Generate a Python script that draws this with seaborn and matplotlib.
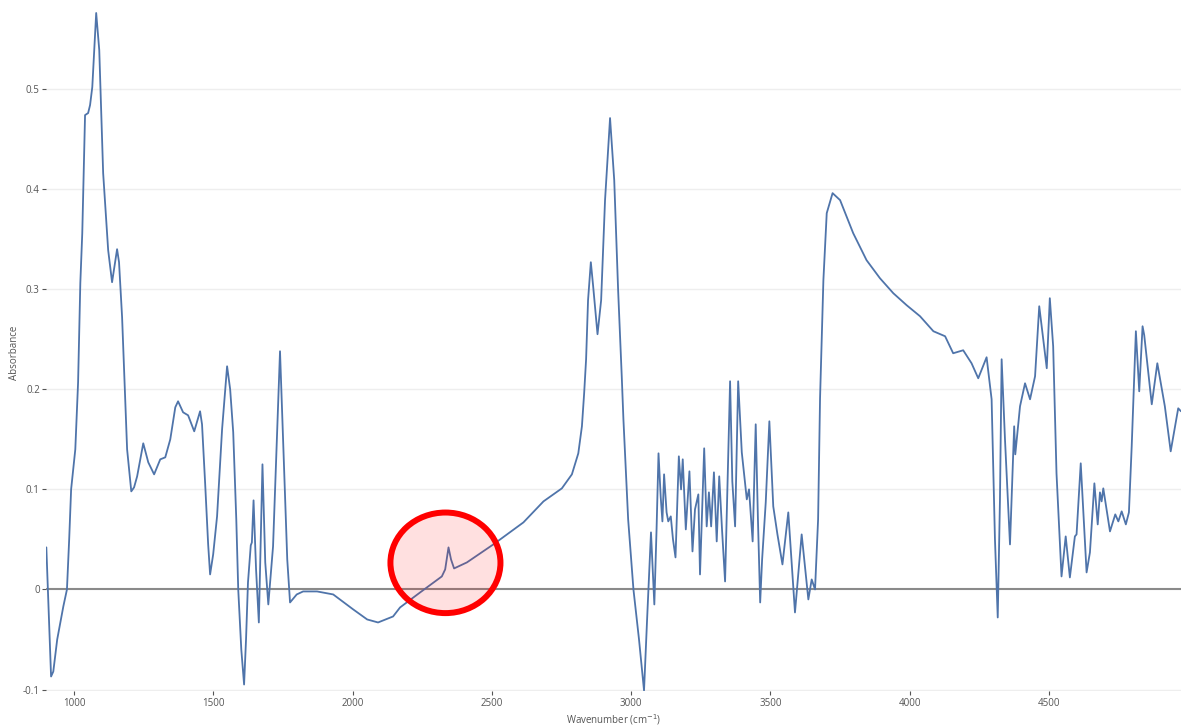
import numpy as np
import pandas as pd
import matplotlib
matplotlib.use("Agg")
import matplotlib.pyplot as plt
from matplotlib.patches import Ellipse
import seaborn as sns

# 스펙트럼 값
wavenumber = [900, 907, 917, 925, 939, 961, 974, 982, 989, 1004, 1014, 1022, 1029, 1039, 1050, 1057, 1065, 1079, 1090, 1104,
              1115, 1122, 1136, 1154, 1161, 1172, 1183, 1190, 1205, 1215, 1226, 1248, 1266, 1287, 1309, 1327, 1345, 1363, 1373, 1391,
              1409, 1431, 1452, 1459, 1470, 1481, 1488, 1499, 1513, 1531, 1549, 1560, 1571, 1582, 1589, 1600, 1610, 1617, 1624, 1634,
              1638, 1644, 1653, 1663, 1676, 1686, 1697, 1714, 1729, 1739, 1750, 1765, 1775, 1799, 1822, 1872, 1930, 2002, 2052, 2091,
              2145, 2170, 2242, 2320, 2332, 2344, 2353, 2364, 2410, 2505, 2613, 2685, 2751, 2787, 2810, 2823, 2831, 2838, 2845, 2855,
              2863, 2879, 2892, 2906, 2924, 2939, 2953, 2966, 2972, 2989, 3008, 3028, 3046, 3057, 3071, 3083, 3091, 3098, 3106, 3112,
              3118, 3127, 3133, 3142, 3150, 3159, 3171, 3179, 3185, 3196, 3209, 3220, 3229, 3241, 3247, 3262, 3271, 3279, 3287, 3297,
              3307, 3316, 3326, 3337, 3348, 3355, 3363, 3373, 3384, 3397, 3415, 3423, 3436, 3447, 3455, 3463, 3470, 3483, 3496, 3510,
              3525, 3543, 3564, 3588, 3612, 3636, 3648, 3660, 3671, 3678, 3690, 3702, 3723, 3750, 3797, 3845, 3893, 3941, 3989, 4037,
              4085, 4127, 4156, 4192, 4222, 4246, 4276, 4294, 4306, 4316, 4324, 4330, 4342, 4360, 4375, 4379, 4396, 4414, 4432, 4450,
              4465, 4492, 4503, 4515, 4527, 4545, 4560, 4575, 4593, 4599, 4614, 4635, 4647, 4663, 4675, 4683, 4689, 4695, 4719, 4738,
              4749, 4761, 4776, 4787, 4797, 4812, 4824, 4836, 4842, 4869, 4889, 4916, 4937, 4964, 4974]
absorbance = [0.042, -0.010, -0.087, -0.082, -0.050, -0.017, 0.000, 0.050, 0.100, 0.140, 0.207, 0.306, 0.356, 0.474, 0.476, 0.484, 0.502, 0.576, 0.539, 0.416,
              0.369, 0.339, 0.307, 0.340, 0.327, 0.272, 0.190, 0.140, 0.098, 0.102, 0.113, 0.146, 0.127, 0.115, 0.130, 0.132, 0.150, 0.182, 0.188, 0.177,
              0.174, 0.158, 0.178, 0.165, 0.107, 0.045, 0.015, 0.035, 0.073, 0.160, 0.223, 0.200, 0.157, 0.070, 0.000, -0.060, -0.095, -0.050, 0.007, 0.044,
              0.047, 0.089, 0.020, -0.033, 0.125, 0.027, -0.015, 0.043, 0.160, 0.238, 0.150, 0.030, -0.013, -0.005, -0.002, -0.002, -0.005, -0.020, -0.030, -0.033,
              -0.027, -0.018, -0.003, 0.013, 0.020, 0.042, 0.030, 0.021, 0.027, 0.045, 0.067, 0.088, 0.101, 0.115, 0.136, 0.163, 0.196, 0.230, 0.289, 0.327,
              0.304, 0.255, 0.289, 0.389, 0.471, 0.409, 0.299, 0.213, 0.170, 0.070, 0.000, -0.050, -0.101, -0.030, 0.057, -0.015, 0.060, 0.136, 0.092, 0.068,
              0.115, 0.077, 0.068, 0.073, 0.050, 0.032, 0.133, 0.100, 0.130, 0.060, 0.118, 0.038, 0.080, 0.095, 0.015, 0.141, 0.063, 0.097, 0.063, 0.117,
              0.048, 0.113, 0.060, 0.008, 0.130, 0.208, 0.108, 0.063, 0.208, 0.137, 0.090, 0.100, 0.048, 0.165, 0.070, -0.013, 0.030, 0.087, 0.168, 0.083,
              0.055, 0.025, 0.077, -0.023, 0.055, -0.010, 0.010, 0.000, 0.070, 0.191, 0.309, 0.376, 0.396, 0.389, 0.356, 0.329, 0.311, 0.296, 0.284, 0.273,
              0.258, 0.253, 0.236, 0.239, 0.226, 0.211, 0.232, 0.190, 0.050, -0.028, 0.090, 0.230, 0.150, 0.045, 0.163, 0.135, 0.183, 0.206, 0.190, 0.213,
              0.283, 0.221, 0.291, 0.243, 0.116, 0.013, 0.053, 0.012, 0.053, 0.055, 0.126, 0.017, 0.037, 0.106, 0.065, 0.097, 0.088, 0.101, 0.058, 0.075,
              0.068, 0.078, 0.065, 0.077, 0.143, 0.258, 0.198, 0.263, 0.254, 0.185, 0.226, 0.183, 0.138, 0.181, 0.178]

x_ticks = [1000, 1500, 2000, 2500, 3000, 3500, 4000, 4500]
y_ticks = [-0.1, 0, 0.1, 0.2, 0.3, 0.4, 0.5]
y_tick_labels = ['-0.1', '0', '0.1', '0.2', '0.3', '0.4', '0.5']

df = pd.DataFrame({'wavenumber': wavenumber, 'absorbance': absorbance})

sns.set_theme(style='white')
plt.rcParams['font.family'] = ['Open Sans', 'DejaVu Sans']

fig = plt.figure(figsize=(11.81, 7.27), dpi=100)
ax = fig.add_axes([0.039, 0.0495, 0.961, 0.9505])

# 그리드, 0 기준선
for v in y_ticks:
    if v != 0:
        ax.axhline(v, color='#eeeeee', lw=1, zorder=0)
ax.axhline(0, color='#8a8a8a', lw=1.5, zorder=1)

sns.lineplot(data=df, x='wavenumber', y='absorbance', estimator=None, color='#4f74aa', lw=1.3, ax=ax, zorder=3)

# 2350 부근 표시 (빨간 원)
ax.add_patch(Ellipse((2333, 0.0266), width=395, height=0.1005, facecolor=(1, 0, 0, 0.12),
                     edgecolor='#ff0000', lw=4.3, zorder=4))

ax.set_xlim(899, 4974)
ax.set_ylim(-0.1015, 0.589)
ax.set_xticks(x_ticks)
ax.set_xticklabels([str(t) for t in x_ticks])
ax.set_yticks(y_ticks)
ax.set_yticklabels(y_tick_labels)
ax.tick_params(axis='both', labelsize=7, colors='#555555', length=3, width=0.8, direction='out')
ax.tick_params(axis='x', bottom=True, pad=2)
ax.tick_params(axis='y', left=True, pad=1.5)
for s in ax.spines.values():
    s.set_visible(False)

ax.set_xlabel('Wavenumber (cm$^{-1}$)', fontsize=7, color='#555555')
ax.set_ylabel('Absorbance', fontsize=7, color='#555555')
ax.xaxis.set_label_coords(0.5, -0.031)
ax.yaxis.set_label_coords(-0.023, 0.49)

plt.savefig('out.png', dpi=100)
